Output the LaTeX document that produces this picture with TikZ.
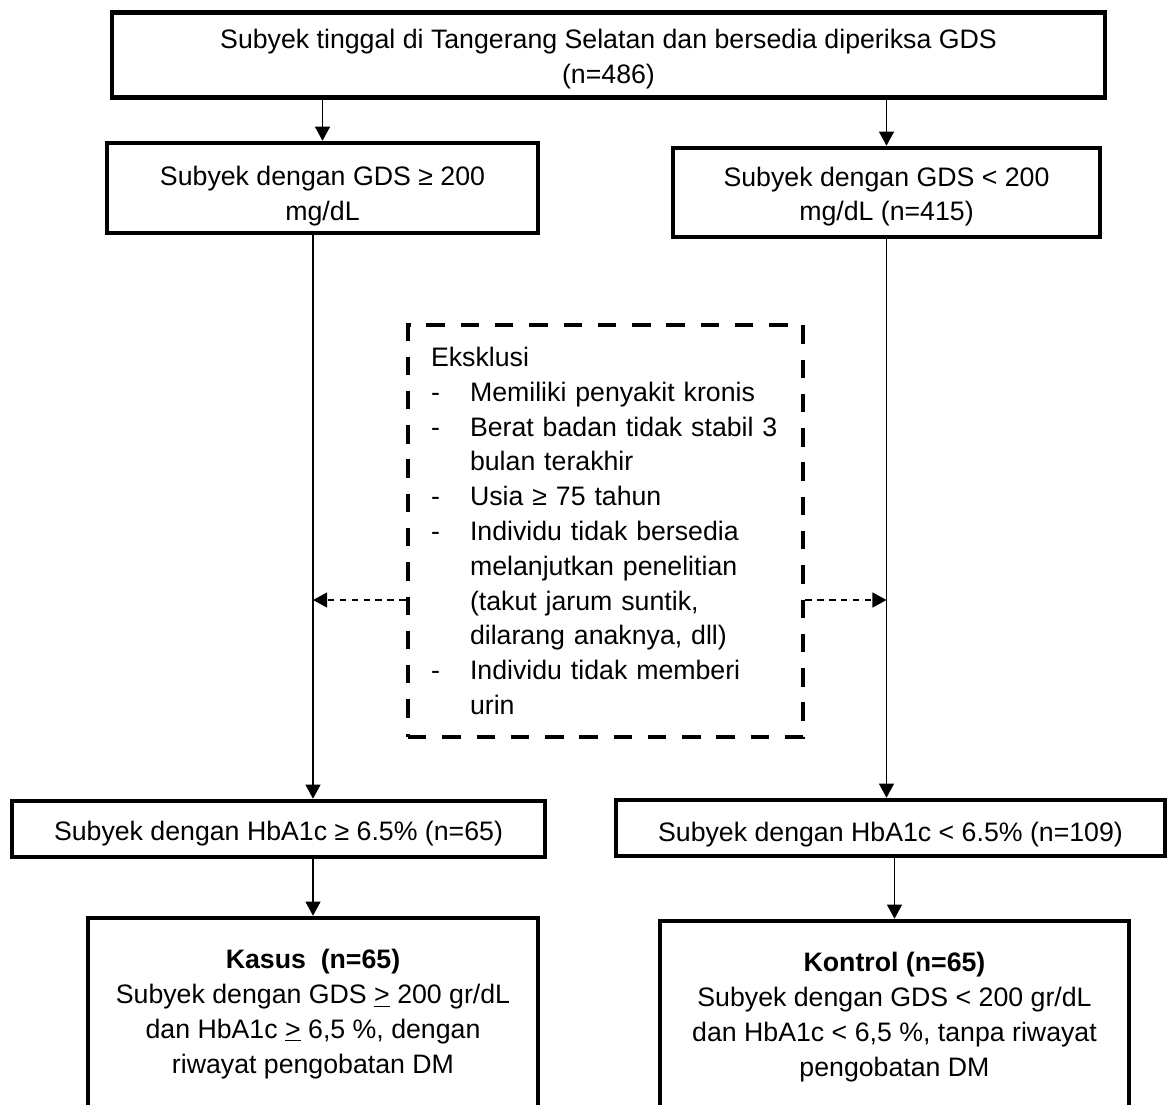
\documentclass[tikz,border=0pt]{standalone}
\usepackage{fontspec}
\setmainfont{Liberation Sans}
\usetikzlibrary{arrows.meta,positioning}
\newcommand{\fsz}{\fontsize{15.2pt}{19.8pt}\selectfont}
\newcommand{\exind}{22.2pt}
\newcommand{\exitem}[1]{\makebox[\exind][l]{-}#1}
\newcommand{\excont}[1]{\hspace*{\exind}#1}
\newcommand{\exjust}[1]{\makebox[176.4pt][s]{#1}}
\newcommand{\lift}[1]{\rule{0pt}{#1}}

\begin{document}
\begin{tikzpicture}[
      box/.style={draw,line width=2.6pt,align=center,inner sep=2pt,font=\fsz},
      lower/.style={execute at begin node={\rule{0pt}{#1}}},
      exbox/.style={draw,line width=2.6pt,dash pattern=on 10.5pt off 9pt,
        align=left,text width=198.6pt,inner sep=0pt,font=\fsz,
        minimum width=7.90cm,minimum height=8.24cm},
      arr/.style={line width=.75pt,-{Triangle[length=8pt,width=8.5pt]}},
      dasharr/.style={arr,dash pattern=on 3.6pt off 3.2pt}
    ]
    \useasboundingbox (0,0) rectangle (23.38,-22.08);

    \node[box,minimum width=19.86cm,minimum height=1.70cm] (top) at (12.17,-1.10)
      {\lift{15.6pt}Subyek tinggal di Tangerang Selatan dan bersedia diperiksa GDS\\(n=486)};
    \node[box,minimum width=8.62cm,minimum height=1.80cm] (gds1) at (6.45,-3.76)
      {\lift{20.5pt}Subyek dengan GDS ≥ 200\\mg/dL};
    \node[box,minimum width=8.54cm,minimum height=1.78cm] (gds2) at (17.73,-3.85)
      {\lift{15.6pt}Subyek dengan GDS < 200\\mg/dL (n=415)};

    \node[exbox] (excl) at (12.11,-10.62) {Eksklusi\\
      \exitem{Memiliki penyakit kronis}\\
      \exitem{\exjust{Berat badan tidak stabil 3}}\\
      \excont{bulan terakhir}\\
      \exitem{Usia ≥ 75 tahun}\\
      \exitem{\exjust{Individu tidak bersedia}}\\
      \excont{\exjust{melanjutkan penelitian}}\\
      \excont{\exjust{(takut jarum suntik,}}\\
      \excont{dilarang anaknya, dll)}\\
      \exitem{Individu tidak memberi}\\
      \excont{urin}};

    \node[box,lower=16.7pt,minimum width=10.66cm,minimum height=1.12cm] (hba1) at (5.57,-16.58)
      {Subyek dengan HbA1c ≥ 6.5\% (n=65)};
    \node[box,lower=18.6pt,minimum width=10.98cm,minimum height=1.12cm] (hba2) at (17.81,-16.56)
      {Subyek dengan HbA1c < 6.5\% (n=109)};

    \node[box,minimum width=9.00cm,minimum height=3.84cm] (kasus) at (6.26,-20.28)
      {\textbf{Kasus\ \ (n=65)}\\Subyek dengan GDS \underline{>} 200 gr/dL\\
       dan HbA1c \underline{>} 6,5 \%, dengan\\riwayat pengobatan DM};
    \node[box,minimum width=9.38cm,minimum height=3.84cm] (kontrol) at (17.89,-20.34)
      {\textbf{Kontrol (n=65)}\\Subyek dengan GDS < 200 gr/dL\\
       dan HbA1c < 6,5 \%, tanpa riwayat\\pengobatan DM};

    \draw[arr] (top.south -| gds1.north) -- (gds1.north);
    \draw[arr] (top.south -| gds2.north) -- (gds2.north);
    \draw[arr] (gds1.south -| kasus.north) -- (hba1.north -| kasus.north);
    \draw[arr] (gds2.south) -- (hba2.north -| gds2.south);
    \draw[arr] (hba1.south -| kasus.north) -- (kasus.north);
    \draw[arr] (hba2.south -| kontrol.north) -- (kontrol.north);

    \coordinate (exL) at ([yshift=-1.38cm]excl.west);
    \coordinate (exR) at ([yshift=-1.38cm]excl.east);
    \draw[dasharr] (exL) -- (exL -| kasus.north);
    \draw[dasharr] (exR) -- (exR -| gds2.south);
  \end{tikzpicture}
\end{document}
